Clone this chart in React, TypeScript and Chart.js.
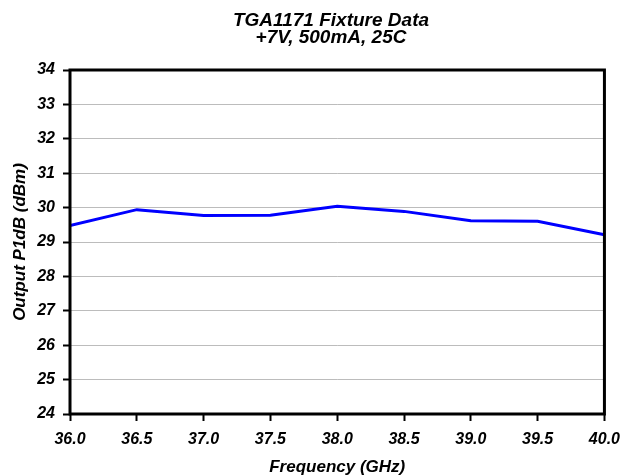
import React, { useEffect, useRef } from "react";
import { Chart, registerables } from "chart.js";

Chart.register(...registerables);

const titleLines = ["TGA1171 Fixture Data", "+7V, 500mA, 25C"];
const frequencies = [36.0, 36.5, 37.0, 37.5, 38.0, 38.5, 39.0, 39.5, 40.0];
const p1dBValues = [29.48, 29.94, 29.77, 29.78, 30.04, 29.89, 29.62, 29.6, 29.21];
const xAxisTitle = "Frequency (GHz)";
const yAxisTitle = "Output P1dB (dBm)";

const FONT_FAMILY = "'Liberation Sans', Arial, sans-serif";

const framePlugin = {
  id: "frame",
  afterDatasetsDraw(chart: any) {
    const { ctx, chartArea } = chart;
    ctx.save();
    ctx.strokeStyle = "#000000";
    ctx.lineWidth = 3;
    ctx.strokeRect(chartArea.left, chartArea.top, chartArea.right - chartArea.left, chartArea.bottom - chartArea.top);
    ctx.restore();
  },
};

const chartTitlePlugin = {
  id: "chartTitle",
  afterDraw(chart: any) {
    const { ctx } = chart;
    ctx.save();
    ctx.fillStyle = "#000000";
    ctx.font = `italic bold 19px ${FONT_FAMILY}`;
    ctx.textAlign = "center";
    ctx.textBaseline = "alphabetic";
    const cx = 331;
    const baselines = [26, 43];
    titleLines.forEach((line, i) => ctx.fillText(line, cx, baselines[i]));
    ctx.restore();
  },
};

export default function App() {
  const canvasRef = useRef<HTMLCanvasElement | null>(null);

  useEffect(() => {
    const canvas = canvasRef.current;
    if (!canvas) return;
    const tickFont = { family: FONT_FAMILY, size: 16, weight: "bold" as const, style: "italic" as const };
    const axisTitleFont = { family: FONT_FAMILY, size: 17, weight: "bold" as const, style: "italic" as const, lineHeight: 1 };
    const chart = new Chart(canvas, {
      type: "line",
      data: {
        datasets: [
          {
            label: "P1dB",
            data: frequencies.map((f, i) => ({ x: f, y: p1dBValues[i] })),
            borderColor: "#0000FF",
            borderWidth: 3,
            pointRadius: 0,
            tension: 0,
            fill: false,
          },
        ],
      },
      options: {
        responsive: false,
        animation: false,
        devicePixelRatio: 1,
        layout: { padding: { left: 0, right: 24, top: 70, bottom: 0 } },
        plugins: {
          legend: { display: false },
          tooltip: { enabled: false },
          title: { display: false },
        },
        scales: {
          x: {
            type: "linear",
            min: 36,
            max: 40,
            afterFit: (scale: any) => {
              scale.height = 62;
            },
            ticks: {
              stepSize: 0.5,
              color: "#000000",
              font: tickFont,
              padding: 9,
              maxRotation: 0,
              callback: (v: any) => Number(v).toFixed(1),
            },
            grid: {
              display: true,
              drawOnChartArea: false,
              drawTicks: true,
              tickLength: 7,
              tickColor: "#000000",
              tickWidth: 2,
            },
            border: { display: false },
            title: {
              display: true,
              text: xAxisTitle,
              color: "#000000",
              font: axisTitleFont,
              padding: { top: 0, bottom: 0 },
            },
          },
          y: {
            type: "linear",
            min: 24,
            max: 34,
            afterFit: (scale: any) => {
              scale.width = 70;
            },
            ticks: {
              stepSize: 1,
              color: "#000000",
              font: tickFont,
              padding: 8,
            },
            grid: {
              display: true,
              drawOnChartArea: true,
              drawTicks: true,
              tickLength: 7,
              color: "#bcbcbc",
              lineWidth: 1,
              tickColor: "#000000",
              tickWidth: 2,
            },
            border: { display: false },
            title: {
              display: true,
              text: yAxisTitle,
              color: "#000000",
              font: axisTitleFont,
              padding: { top: 11.5, bottom: 0 },
            },
          },
        },
      },
      plugins: [framePlugin, chartTitlePlugin],
    });
    return () => chart.destroy();
  }, []);

  return (
    <div style={{ position: "absolute", left: 0, top: 0, width: 629, height: 476, background: "#ffffff" }}>
      <canvas ref={canvasRef} width={629} height={476} style={{ display: "block" }} />
    </div>
  );
}
